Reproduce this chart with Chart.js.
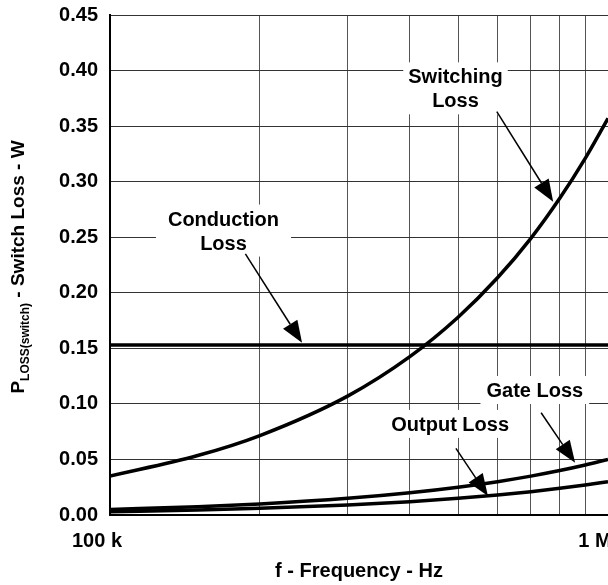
<!DOCTYPE html>
<html>
<head>
<meta charset="utf-8">
<script src="https://cdn.jsdelivr.net/npm/chart.js@4/dist/chart.umd.min.js"></script>
<style>
  html, body { margin: 0; padding: 0; background: #fff; }
  #wrap { width: 608px; height: 585px; position: relative; }
</style>
</head>
<body>
<div id="wrap"><canvas id="lossChart"></canvas></div>
<script>
// frequency (Hz) and loss (W)
const freqs = [100000, 150000, 200000, 300000, 400000, 500000, 600000, 700000, 800000, 900000, 1000000];
const switchingLoss = [0.035, 0.0535, 0.0715, 0.107, 0.1425, 0.178, 0.2135, 0.249, 0.285, 0.321, 0.357];
const conductionLoss = [0.153, 0.153, 0.153, 0.153, 0.153, 0.153, 0.153, 0.153, 0.153, 0.153, 0.153];
const gateLoss = [0.005, 0.0075, 0.010, 0.015, 0.020, 0.025, 0.030, 0.035, 0.040, 0.045, 0.050];
const outputLoss = [0.003, 0.0045, 0.006, 0.009, 0.012, 0.015, 0.018, 0.021, 0.024, 0.027, 0.030];

const yTicks = [0, 0.05, 0.10, 0.15, 0.20, 0.25, 0.30, 0.35, 0.40, 0.45];
const xTickText = { 100000: "100 k", 1000000: "1 M" };

// callouts, in data units (frequency, watts)
const notes = [
  { lines: ["Switching", "Loss"], at: [494000, 0.384], tail: [598000, 0.363], tip: [776000, 0.282], pad: 5 },
  { lines: ["Conduction", "Loss"], at: [169000, 0.256], tail: [187000, 0.235], tip: [243000, 0.155], pad: 12 },
  { lines: ["Gate Loss"], at: [713000, 0.1125], tail: [734000, 0.092], tip: [859000, 0.047], pad: 6 },
  { lines: ["Output Loss"], at: [482000, 0.082], tail: [495000, 0.060], tip: [574000, 0.017], pad: 6 }
];

const FONT = "'Liberation Sans', Arial, Helvetica, sans-serif";

function series(values) {
  return {
    data: freqs.map((f, i) => ({ x: f, y: values[i] })),
    borderColor: "#000",
    borderWidth: 3.5,
    pointRadius: 0,
    fill: false,
    cubicInterpolationMode: "monotone"
  };
}

function arrow(ctx, x1, y1, x2, y2) {
  const a = Math.atan2(y2 - y1, x2 - x1);
  const len = 22, half = 8.5;
  const bx = x2 - len * Math.cos(a), by = y2 - len * Math.sin(a);
  ctx.beginPath();
  ctx.moveTo(x1, y1);
  ctx.lineTo(bx, by);
  ctx.lineWidth = 1.5;
  ctx.strokeStyle = "#000";
  ctx.stroke();
  ctx.beginPath();
  ctx.moveTo(x2, y2);
  ctx.lineTo(bx + half * Math.sin(a), by - half * Math.cos(a));
  ctx.lineTo(bx - half * Math.sin(a), by + half * Math.cos(a));
  ctx.closePath();
  ctx.fillStyle = "#000";
  ctx.fill();
}

const calloutPlugin = {
  id: "callouts",
  beforeDatasetsDraw(chart) {
    const { ctx, scales: { x, y } } = chart;
    ctx.save();
    ctx.font = "bold 20px " + FONT;
    notes.forEach(n => {
      const cx = x.getPixelForValue(n.at[0]);
      const cy = y.getPixelForValue(n.at[1]);
      const w = Math.max(...n.lines.map(t => ctx.measureText(t).width));
      const h = n.lines.length * 24;
      ctx.fillStyle = "#fff";
      ctx.fillRect(cx - w / 2 - n.pad, cy - h / 2 - 2, w + 2 * n.pad, h + 4);
    });
    ctx.restore();
  },
  afterDatasetsDraw(chart) {
    const { ctx, scales: { x, y } } = chart;
    ctx.save();
    ctx.font = "bold 20px " + FONT;
    ctx.textAlign = "center";
    ctx.textBaseline = "alphabetic";
    ctx.fillStyle = "#000";
    notes.forEach(n => {
      const cx = x.getPixelForValue(n.at[0]);
      const cy = y.getPixelForValue(n.at[1]);
      n.lines.forEach((t, i) => {
        const off = (i - (n.lines.length - 1) / 2) * 24;
        ctx.fillText(t, cx, cy + off + 7);
      });
      arrow(ctx,
        x.getPixelForValue(n.tail[0]), y.getPixelForValue(n.tail[1]),
        x.getPixelForValue(n.tip[0]), y.getPixelForValue(n.tip[1]));
    });

    // y axis title with subscript
    const area = chart.chartArea;
    const big = "bold 19px " + FONT, small = "bold 12px " + FONT;
    ctx.font = big; const wP = ctx.measureText("P").width;
    const rest = " - Switch Loss - W"; const wR = ctx.measureText(rest).width;
    ctx.font = small; const sub = "LOSS(switch)"; const wS = ctx.measureText(sub).width;
    const total = wP + wS + wR;
    ctx.translate(24, (area.top + area.bottom) / 2 + 2);
    ctx.rotate(-Math.PI / 2);
    ctx.textAlign = "left";
    let px = -total / 2;
    ctx.font = big; ctx.fillText("P", px, 0); px += wP;
    ctx.font = small; ctx.fillText(sub, px, 5); px += wS;
    ctx.font = big; ctx.fillText(rest, px, 0);
    ctx.restore();
  }
};

new Chart(document.getElementById("lossChart"), {
  type: "line",
  data: {
    datasets: [
      series(switchingLoss),
      series(conductionLoss),
      series(gateLoss),
      series(outputLoss)
    ]
  },
  options: {
    responsive: true,
    maintainAspectRatio: false,
    animation: false,
    layout: { padding: { top: 15, right: 0, left: 0, bottom: 0 } },
    plugins: { legend: { display: false }, tooltip: { enabled: false } },
    scales: {
      x: {
        type: "logarithmic",
        min: 100000,
        max: 1000000,
        afterFit(s) { s.height = 70; s.paddingLeft = 0; s.paddingRight = 0; },
        afterBuildTicks(s) { s.ticks = freqs.filter(f => f !== 150000).map(v => ({ value: v })); },
        grid: { color: "#555", lineWidth: 1, drawTicks: false },
        border: { color: "#000", width: 2 },
        ticks: {
          autoSkip: false,
          maxRotation: 0,
          padding: 14,
          labelOffset: -13,
          color: "#000",
          font: { family: FONT, size: 20, weight: "bold" },
          callback: v => xTickText[v] || ""
        },
        title: {
          display: true,
          text: "f - Frequency - Hz",
          color: "#000",
          font: { family: FONT, size: 20, weight: "bold" },
          padding: { top: 0, bottom: 2 }
        }
      },
      y: {
        min: 0,
        max: 0.45,
        afterFit(s) { s.width = 110; s.paddingTop = 0; s.paddingBottom = 0; },
        afterBuildTicks(s) { s.ticks = yTicks.map(v => ({ value: v })); },
        grid: { color: "#333", lineWidth: 1, drawTicks: false },
        border: { color: "#000", width: 2 },
        ticks: {
          padding: 12,
          color: "#000",
          font: { family: FONT, size: 20, weight: "bold" },
          callback: v => v.toFixed(2)
        }
      }
    }
  },
  plugins: [calloutPlugin]
});
</script>
</body>
</html>
